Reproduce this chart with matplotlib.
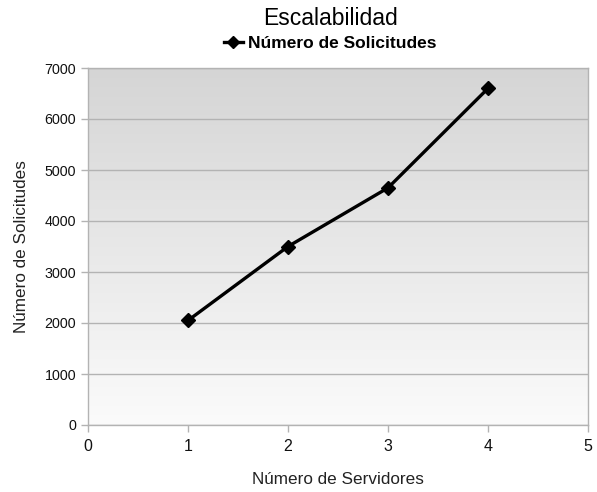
import numpy as np
import matplotlib
matplotlib.use("Agg")
import matplotlib.pyplot as plt
from matplotlib.lines import Line2D
from matplotlib.colors import LinearSegmentedColormap

plt.rcParams['font.family'] = ['Liberation Sans', 'DejaVu Sans']

servidores = [1, 2, 3, 4]
solicitudes = [2050, 3500, 4650, 6600]
x_ticks = [0, 1, 2, 3, 4, 5]
y_ticks = [0, 1000, 2000, 3000, 4000, 5000, 6000, 7000]

fig = plt.figure(figsize=(5.97, 4.92), dpi=100)
ax = fig.add_axes([88/597, 67/492, 500/597, 357/492])

# gradient background
grad = np.linspace(0, 1, 256).reshape(-1, 1)
cmap = LinearSegmentedColormap.from_list('g', ['#fbfbfb', '#d5d5d5'])
ax.imshow(grad, extent=[0, 1, 0, 1], transform=ax.transAxes, origin='lower',
          cmap=cmap, aspect='auto', zorder=0)

ax.set_xlim(0, 5)
ax.set_ylim(0, 7000)
ax.set_xticks(x_ticks)
ax.set_yticks(y_ticks)
ax.grid(axis='y', color='#b3b3b3', linewidth=1, zorder=1)
ax.set_axisbelow(True)

ax.plot(servidores, solicitudes, color='black', linewidth=2.4, marker='D',
        markersize=7, zorder=3)

for s in ax.spines.values():
    s.set_color('#b3b3b3')
    s.set_linewidth(1)
ax.tick_params(axis='both', colors='#b3b3b3', labelcolor='#111111', labelsize=10.3,
               length=5, width=1)
ax.tick_params(axis='x', pad=5, labelsize=11.5)

ax.set_xlabel('Número de Servidores', fontsize=12.3, labelpad=13, color='#222222')
ax.set_ylabel('Número de Solicitudes', fontsize=12.3, labelpad=11, color='#222222')

fig.text(0.553, 0.963, 'Escalabilidad', ha='center', va='center', fontsize=16.5,
         weight='medium')
handle = Line2D([], [], color='black', linewidth=2.4, marker='D', markersize=6)
fig.legend([handle], ['Número de Solicitudes'], loc='center', bbox_to_anchor=(0.553, 0.912),
           frameon=False, prop={'weight': 'bold', 'size': 12.5}, handlelength=1.1,
           handletextpad=0.3, borderaxespad=0)

fig.savefig('out.png', dpi=100)
